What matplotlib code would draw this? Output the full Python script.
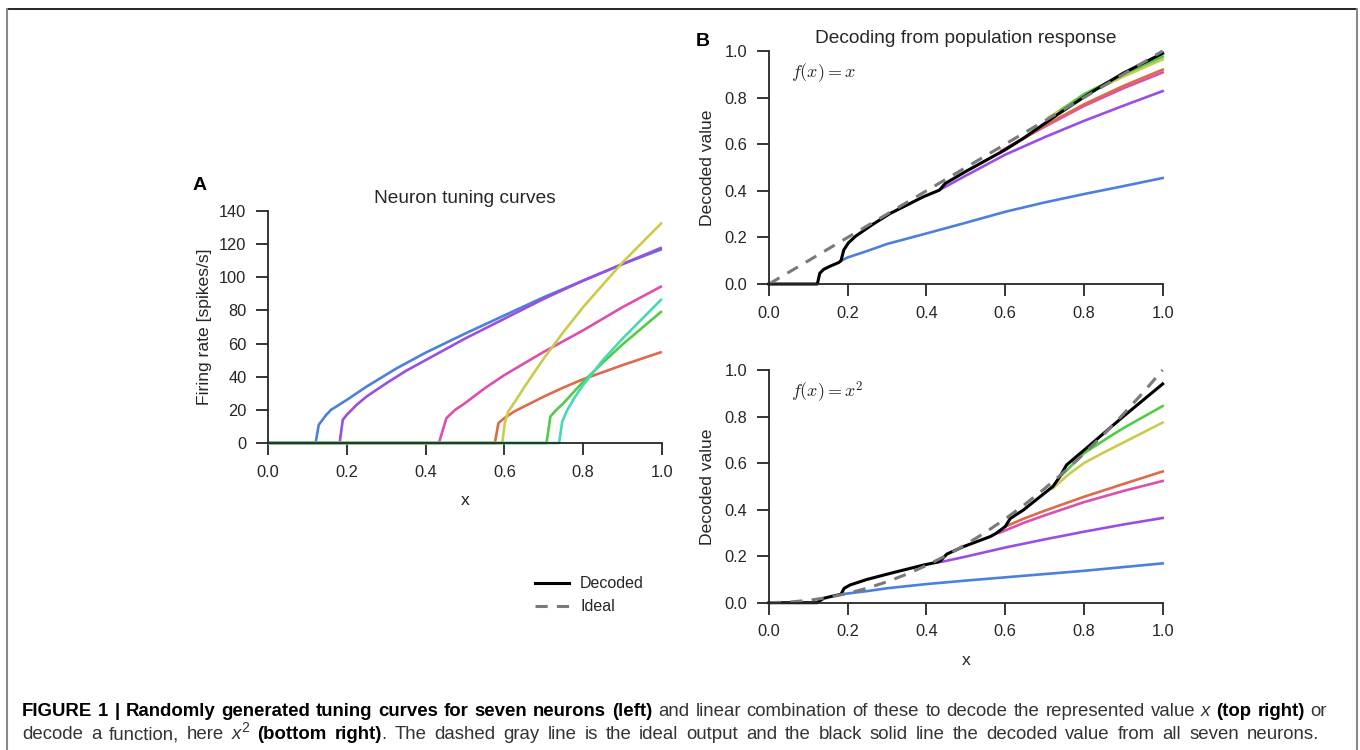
import matplotlib
matplotlib.use('Agg')
import matplotlib.pyplot as plt
from matplotlib.lines import Line2D

plt.rcParams['font.family'] = ['Liberation Sans', 'DejaVu Sans']

# Colores de las neuronas
colores = ['#4c80dc', '#9a4fe0', '#dd4fae', '#dd6b4b', '#c9cc4a', '#52cc45', '#47d8b4']

# Curvas de sintonía (panel A): x, tasa de disparo
azul_x = [0, 0.121, 0.129, 0.148, 0.16, 0.2, 0.25, 0.326, 0.4, 0.5, 0.6, 0.7, 0.8, 0.9, 1.0]
azul_r = [0, 0, 11, 17, 20, 26, 34, 45, 54.5, 66, 77, 88, 98, 108, 117]
morado_x = [0, 0.182, 0.19, 0.2, 0.225, 0.25, 0.3, 0.35, 0.4, 0.5, 0.6, 0.7, 0.8, 0.9, 1.0]
morado_r = [0, 0, 14, 17, 23, 28, 36, 43.5, 50, 63, 75, 87, 98, 108, 118]
magenta_x = [0, 0.434, 0.453, 0.475, 0.5, 0.55, 0.6, 0.65, 0.7, 0.8, 0.9, 1.0]
magenta_r = [0, 0, 15, 20, 24, 33, 41, 48, 55, 68, 82, 94.7]
rojo_x = [0, 0.576, 0.585, 0.6, 0.625, 0.65, 0.7, 0.75, 0.8, 0.9, 1.0]
rojo_r = [0, 0, 12, 15, 19, 22, 28, 33.5, 38.5, 47, 55]
amarillo_x = [0, 0.595, 0.601, 0.61, 0.63, 0.65, 0.7, 0.75, 0.8, 0.9, 1.0]
amarillo_r = [0, 0, 12, 19, 26, 33.5, 51, 67, 82, 109, 133]
verde_x = [0, 0.707, 0.717, 0.73, 0.75, 0.8, 0.85, 0.9, 1.0]
verde_r = [0, 0, 16, 19.5, 24, 37, 48.5, 59.5, 79.6]
turquesa_x = [0, 0.739, 0.747, 0.76, 0.78, 0.8, 0.85, 0.9, 1.0]
turquesa_r = [0, 0, 13, 20, 28, 35, 50, 63, 87]

# Panel B arriba: f(x) = x
neg_arr_x = [0, 0.123, 0.129, 0.139, 0.156, 0.177, 0.183, 0.19, 0.202, 0.22, 0.26, 0.308, 0.393,
             0.433, 0.448, 0.503, 0.599, 0.646, 0.731, 0.816, 0.9, 1.0]
neg_arr_y = [0, 0, 0.046, 0.063, 0.077, 0.092, 0.10, 0.146, 0.177, 0.205, 0.252, 0.303, 0.375,
             0.403, 0.432, 0.486, 0.575, 0.625, 0.725, 0.82, 0.905, 0.99]
ideal_arr_x = [0, 1.0]
ideal_arr_y = [0, 1.0]
parciales_arr = [
    ([0.183, 0.2, 0.25, 0.3, 0.4, 0.5, 0.6, 0.7, 0.8, 0.9, 1.0],
     [0.10, 0.114, 0.142, 0.172, 0.217, 0.263, 0.31, 0.35, 0.386, 0.42, 0.455]),
    ([0.44, 0.5, 0.6, 0.7, 0.8, 0.9, 1.0], [0.41, 0.465, 0.555, 0.63, 0.70, 0.765, 0.828]),
    ([0.59, 0.7, 0.8, 0.9, 1.0], [0.572, 0.675, 0.764, 0.84, 0.908]),
    ([0.6, 0.7, 0.8, 0.9, 1.0], [0.578, 0.68, 0.771, 0.85, 0.92]),
    ([0.71, 0.8, 0.9, 1.0], [0.715, 0.81, 0.89, 0.964]),
    ([0.74, 0.8, 0.9, 1.0], [0.745, 0.815, 0.90, 0.976]),
]

# Panel B abajo: f(x) = x^2
neg_aba_x = [0, 0.122, 0.139, 0.164, 0.183, 0.191, 0.206, 0.249, 0.308, 0.393, 0.433, 0.452, 0.494,
             0.562, 0.577, 0.6, 0.613, 0.646, 0.689, 0.71, 0.722, 0.739, 0.756, 0.816, 0.9, 1.0]
neg_aba_y = [0, 0, 0.019, 0.029, 0.036, 0.062, 0.076, 0.10, 0.126, 0.162, 0.176, 0.209, 0.241,
             0.284, 0.298, 0.327, 0.362, 0.398, 0.456, 0.484, 0.501, 0.542, 0.592, 0.678, 0.80, 0.94]
ideal_aba_x = [0, 0.05, 0.1, 0.15, 0.2, 0.25, 0.3, 0.35, 0.4, 0.45, 0.5, 0.55, 0.6, 0.65, 0.7,
               0.75, 0.8, 0.85, 0.9, 0.95, 1.0]
ideal_aba_y = [0, 0.0025, 0.01, 0.0225, 0.04, 0.0625, 0.09, 0.1225, 0.16, 0.2025, 0.25, 0.3025,
               0.36, 0.4225, 0.49, 0.5625, 0.64, 0.7225, 0.81, 0.9025, 1.0]
parciales_aba = [
    ([0.183, 0.25, 0.3, 0.4, 0.5, 0.6, 0.7, 0.8, 0.9, 1.0],
     [0.036, 0.05, 0.062, 0.08, 0.095, 0.109, 0.123, 0.137, 0.153, 0.169]),
    ([0.44, 0.5, 0.6, 0.7, 0.8, 0.9, 1.0], [0.176, 0.198, 0.237, 0.272, 0.305, 0.336, 0.364]),
    ([0.585, 0.65, 0.7, 0.8, 0.9, 1.0], [0.30, 0.345, 0.375, 0.432, 0.48, 0.523]),
    ([0.6, 0.65, 0.7, 0.8, 0.9, 1.0], [0.327, 0.363, 0.395, 0.455, 0.51, 0.564]),
    ([0.72, 0.76, 0.8, 0.85, 0.9, 1.0], [0.49, 0.55, 0.60, 0.645, 0.688, 0.774]),
    ([0.745, 0.8, 0.85, 0.9, 1.0], [0.55, 0.642, 0.697, 0.75, 0.845]),
]

ticks_x = [0.0, 0.2, 0.4, 0.6, 0.8, 1.0]
ticks_A = [0, 20, 40, 60, 80, 100, 120, 140]
ticks_B = [0.0, 0.2, 0.4, 0.6, 0.8, 1.0]

gris = '#262626'
fig = plt.figure(figsize=(13.6, 7.5), dpi=100)


def estilo(ax):
    for lado in ['top', 'right']:
        ax.spines[lado].set_visible(False)
    for lado in ['left', 'bottom']:
        ax.spines[lado].set_linewidth(1.3)
        ax.spines[lado].set_color(gris)
    ax.tick_params(direction='out', length=8.5, width=1.3, color=gris, labelcolor=gris,
                   labelsize=11.8, pad=7)
    ax.set_xlim(0, 1)
    ax.set_xticks(ticks_x)
    ax.set_xticklabels(['%.1f' % t for t in ticks_x])


# Panel A
axA = fig.add_axes([0.197, 0.4093, 0.2897, 0.3093])
estilo(axA)
curvas = [(azul_x, azul_r), (morado_x, morado_r), (magenta_x, magenta_r), (rojo_x, rojo_r),
          (amarillo_x, amarillo_r), (verde_x, verde_r), (turquesa_x, turquesa_r)]
for (cx, cr), c in zip(curvas, colores):
    axA.plot(cx, cr, color=c, lw=1.9, clip_on=False, solid_capstyle='butt')
axA.set_ylim(0, 140)
axA.set_yticks(ticks_A)
axA.set_title('Neuron tuning curves', fontsize=13.8, color=gris, pad=6)
axA.set_ylabel('Firing rate [spikes/s]', fontsize=12.6, color=gris, labelpad=5)
axA.set_xlabel('x', fontsize=12.6, color=gris, labelpad=10)
fig.text(193 / 1360, 1 - 185 / 750, 'A', fontsize=14, fontweight='bold', va='center')

# Panel B
axB1 = fig.add_axes([0.5654, 0.6213, 0.2895, 0.3107])
axB2 = fig.add_axes([0.5654, 0.1964, 0.2895, 0.3103])
paneles = [(axB1, parciales_arr, neg_arr_x, neg_arr_y, ideal_arr_x, ideal_arr_y, r'$f(x) = x$'),
           (axB2, parciales_aba, neg_aba_x, neg_aba_y, ideal_aba_x, ideal_aba_y, r'$f(x) = x^2$')]
for ax, parciales, nx, ny, ix, iy, formula in paneles:
    estilo(ax)
    for (px, py), c in zip(parciales, colores):
        ax.plot(px, py, color=c, lw=1.9, clip_on=False)
    ax.plot(nx, ny, color='black', lw=2.2, clip_on=False)
    ax.plot(ix, iy, color='#7a7a7a', lw=2.2, ls=(0, (4, 3)), clip_on=False)
    ax.set_ylim(0, 1)
    ax.set_yticks(ticks_B)
    ax.set_yticklabels(['%.1f' % t for t in ticks_B])
    ax.set_ylabel('Decoded value', fontsize=12.6, color=gris, labelpad=7)
    ax.text(0.055, 0.905, formula, transform=ax.transAxes, fontsize=13, color=gris,
            math_fontfamily='cm', va='center')

axB1.set_title('Decoding from population response', fontsize=13.8, color=gris, pad=6)
axB2.set_xlabel('x', fontsize=12.6, color=gris, labelpad=10)
fig.text(696 / 1360, 1 - 42 / 750, 'B', fontsize=14, fontweight='bold', va='center')

# Leyenda
manejadores = [Line2D([], [], color='black', lw=2.2),
               Line2D([], [], color='#7a7a7a', lw=2.2, ls=(0, (4, 3)))]
fig.legend(manejadores, ['Decoded', 'Ideal'], loc='upper left',
           bbox_to_anchor=(521 / 1360, 1 - 562 / 750), frameon=False, fontsize=11.5,
           handlelength=2.1, handletextpad=0.7, labelspacing=0.5, labelcolor=gris)

# Marco
fig.add_artist(Line2D([7 / 1360, 1357 / 1360], [1 - 9 / 750, 1 - 9 / 750], color='black',
                      lw=1.2, transform=fig.transFigure))
fig.add_artist(Line2D([7 / 1360, 7 / 1360], [0, 1 - 9 / 750], color='#888888', lw=1.5,
                      transform=fig.transFigure))
fig.add_artist(Line2D([1357 / 1360, 1357 / 1360], [0, 1 - 9 / 750], color='#888888', lw=1.5,
                      transform=fig.transFigure))

# Pie de figura (justificado)
renderer = fig.canvas.get_renderer()
W = fig.bbox.width
neg = dict(fontweight='bold', color='black')
nor = dict(color='#333333')
ita = dict(color='#333333', fontstyle='italic')


def linea(segmentos, x0_px, x1_px, y_px, tam=13.4):
    # segmentos: (texto, estilo, pegado, subir_px, tam_relativo)
    fichas = []
    for texto, kw, pegado, dy, rel in segmentos:
        palabras = texto.split(' ')
        for i, p in enumerate(palabras):
            fichas.append((p, kw, pegado if i == 0 else False, dy, rel))
    objetos = []
    total = 0
    huecos = 0
    for i, (p, kw, pegado, dy, rel) in enumerate(fichas):
        t = fig.text(0, 1 - (y_px - dy) / 750, p, fontsize=tam * rel, va='baseline', **kw)
        ancho = t.get_window_extent(renderer).width
        objetos.append((t, ancho, pegado))
        total += ancho
        if i > 0 and not pegado:
            huecos += 1
    hueco = (x1_px - x0_px - total) / huecos
    x = x0_px
    for i, (t, ancho, pegado) in enumerate(objetos):
        if i > 0 and not pegado:
            x += hueco
        t.set_x(x / W)
        x += ancho


linea([('FIGURE 1 | Randomly generated tuning curves for seven neurons (left)', neg, False, 0, 1),
       ('and linear combination of these to decode the represented value', nor, False, 0, 1),
       ('x', ita, False, 0, 1),
       ('(top right)', neg, False, 0, 1),
       ('or', nor, False, 0, 1)], 22, 1327, 716)
linea([('decode a function, here', nor, False, 0, 1),
       ('x', ita, False, 0, 1),
       ('2', nor, True, 7, 0.75),
       ('(bottom right)', neg, False, 0, 1),
       ('.', nor, True, 0, 1),
       ('The dashed gray line is the ideal output and the black solid line the decoded value from all seven neurons.',
        nor, False, 0, 1)], 22, 1319, 739)

fig.savefig('out.png', dpi=100)
